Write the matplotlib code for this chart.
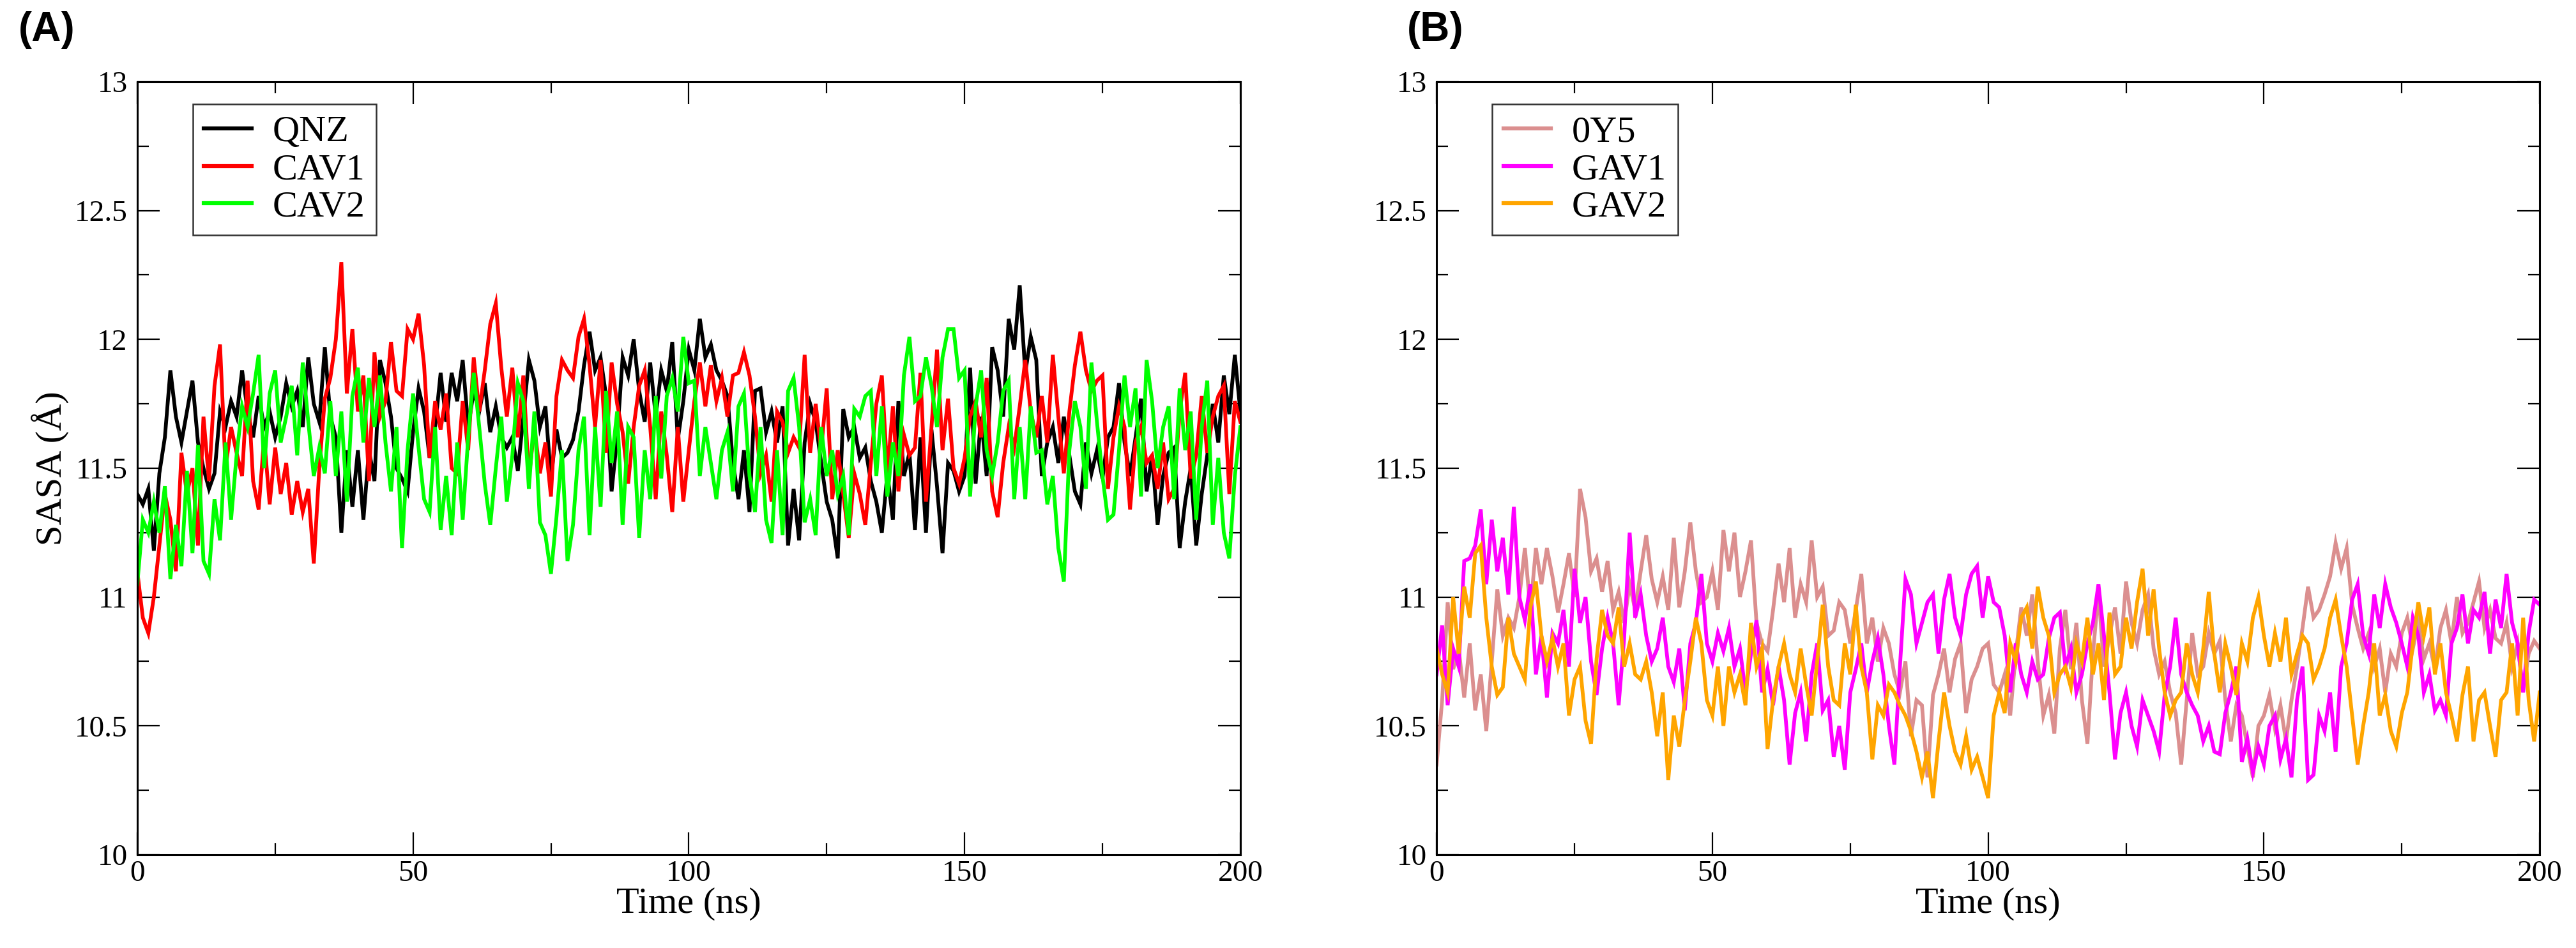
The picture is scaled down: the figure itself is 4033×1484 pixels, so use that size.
import numpy as np
import matplotlib
matplotlib.use("Agg")
import matplotlib.pyplot as plt
from matplotlib.ticker import MultipleLocator

plt.rcParams['font.family'] = ['Liberation Serif', 'DejaVu Serif']

# SASA vs time, one sample per ns (0..200 ns)
time_ns = np.arange(0, 201, 1)

sasa_qnz = [
    11.40, 11.36, 11.42, 11.18, 11.48, 11.62, 11.88, 11.70, 11.60, 11.72,
    11.84, 11.60, 11.50, 11.42, 11.48, 11.72, 11.66, 11.76, 11.70, 11.88,
    11.72, 11.62, 11.78, 11.66, 11.72, 11.62, 11.70, 11.83, 11.74, 11.80,
    11.66, 11.93, 11.75, 11.68, 11.97, 11.70, 11.62, 11.25, 11.57, 11.35,
    11.57, 11.30, 11.57, 11.45, 11.92, 11.83, 11.70, 11.50, 11.46, 11.41,
    11.64, 11.81, 11.72, 11.54, 11.66, 11.87, 11.68, 11.87, 11.76, 11.92,
    11.66, 11.80, 11.72, 11.83, 11.64, 11.74, 11.62, 11.58, 11.62, 11.49,
    11.70, 11.92, 11.84, 11.66, 11.74, 11.46, 11.65, 11.54, 11.56, 11.61,
    11.72, 11.90, 12.03, 11.88, 11.93, 11.78, 11.41, 11.62, 11.93, 11.86,
    12.00, 11.80, 11.68, 11.91, 11.70, 11.88, 11.80, 11.99, 11.61, 11.76,
    11.96, 11.88, 12.08, 11.93, 11.98, 11.88, 11.84, 11.78, 11.52, 11.38,
    11.57, 11.33, 11.80, 11.81, 11.64, 11.72, 11.60, 11.74, 11.20, 11.42,
    11.22, 11.60, 11.75, 11.68, 11.52, 11.37, 11.30, 11.15, 11.73, 11.62,
    11.66, 11.54, 11.58, 11.45, 11.37, 11.25, 11.48, 11.30, 11.76, 11.47,
    11.56, 11.26, 11.62, 11.25, 11.65, 11.43, 11.17, 11.52, 11.49, 11.41,
    11.47, 11.89, 11.44, 11.70, 11.47, 11.97, 11.88, 11.70, 12.08, 11.96,
    12.21, 11.87, 12.01, 11.92, 11.47, 11.60, 11.66, 11.52, 11.70, 11.55,
    11.41, 11.36, 11.60, 11.48, 11.57, 11.46, 11.62, 11.66, 11.83, 11.60,
    11.47, 11.62, 11.77, 11.41, 11.55, 11.28, 11.47, 11.56, 11.58, 11.19,
    11.37, 11.50, 11.20, 11.40, 11.55, 11.75, 11.60, 11.86, 11.71, 11.94,
    11.72,
]

sasa_cav1 = [
    11.10, 10.92, 10.86, 11.00, 11.20, 11.40, 11.30, 11.10, 11.56, 11.40,
    11.50, 11.20, 11.70, 11.45, 11.82, 11.98, 11.50, 11.66, 11.56, 11.47,
    11.84, 11.45, 11.34, 11.62, 11.36, 11.58, 11.40, 11.52, 11.32, 11.45,
    11.33, 11.42, 11.13, 11.50, 11.77, 11.85, 12.00, 12.30, 11.79, 12.04,
    11.72, 11.86, 11.45, 11.95, 11.70, 11.76, 11.99, 11.80, 11.78, 12.04,
    12.00, 12.10, 11.90, 11.54, 11.76, 11.65, 11.79, 11.50, 11.48, 11.76,
    11.57, 11.93, 11.72, 11.88, 12.06, 12.14, 11.89, 11.70, 11.89, 11.62,
    11.86, 11.46, 11.66, 11.48, 11.60, 11.39, 11.78, 11.92, 11.88, 11.85,
    12.01, 12.08, 11.90, 11.66, 11.92, 11.56, 11.91, 11.75, 11.64, 11.44,
    11.66, 11.82, 11.88, 11.66, 11.38, 11.72, 11.55, 11.33, 11.66, 11.37,
    11.57, 11.76, 11.91, 11.74, 11.90, 11.76, 11.85, 11.70, 11.86, 11.87,
    11.95, 11.86, 11.70, 11.48, 11.55, 11.37, 11.72, 11.68, 11.56, 11.62,
    11.58, 11.94, 11.56, 11.75, 11.57, 11.81, 11.38, 11.57, 11.40, 11.23,
    11.48, 11.40, 11.28, 11.52, 11.75, 11.86, 11.48, 11.74, 11.41, 11.63,
    11.55, 11.58, 11.87, 11.37, 11.66, 11.96, 11.57, 11.77, 11.50, 11.44,
    11.54, 11.70, 11.76, 11.62, 11.85, 11.41, 11.31, 11.52, 11.66, 11.58,
    11.74, 11.92, 11.72, 11.62, 11.78, 11.60, 11.94, 11.70, 11.48, 11.72,
    11.90, 12.03, 11.88, 11.80, 11.84, 11.86, 11.42, 11.62, 11.74, 11.66,
    11.34, 11.60, 11.66, 11.52, 11.55, 11.42, 11.60, 11.38, 11.42, 11.72,
    11.87, 11.46, 11.55, 11.78, 11.56, 11.70, 11.78, 11.82, 11.40, 11.76,
    11.68,
]

sasa_cav2 = [
    11.05, 11.30, 11.25, 11.37, 11.25, 11.43, 11.07, 11.28, 11.12, 11.49,
    11.17, 11.59, 11.14, 11.09, 11.38, 11.22, 11.60, 11.30, 11.55, 11.74,
    11.66, 11.79, 11.94, 11.50, 11.79, 11.88, 11.60, 11.70, 11.82, 11.55,
    11.91, 11.68, 11.47, 11.58, 11.48, 11.76, 11.47, 11.72, 11.37, 11.78,
    11.89, 11.60, 11.85, 11.66, 11.86, 11.60, 11.41, 11.66, 11.19, 11.57,
    11.79, 11.58, 11.38, 11.33, 11.66, 11.26, 11.47, 11.24, 11.60, 11.30,
    11.62, 11.87, 11.66, 11.44, 11.28, 11.50, 11.70, 11.37, 11.55, 11.83,
    11.76, 11.42, 11.72, 11.29, 11.24, 11.09, 11.31, 11.57, 11.14, 11.28,
    11.57, 11.70, 11.24, 11.66, 11.35, 11.80, 11.52, 11.72, 11.28, 11.66,
    11.62, 11.23, 11.57, 11.38, 11.78, 11.46, 11.78, 11.85, 11.72, 12.01,
    11.83, 11.84, 11.47, 11.66, 11.52, 11.38, 11.57, 11.64, 11.41, 11.74,
    11.79, 11.47, 11.33, 11.66, 11.30, 11.21, 11.57, 11.24, 11.80, 11.85,
    11.66, 11.29, 11.38, 11.24, 11.66, 11.47, 11.57, 11.40, 11.47, 11.24,
    11.73, 11.70, 11.78, 11.80, 11.47, 11.74, 11.39, 11.60, 11.47, 11.86,
    12.01, 11.76, 11.78, 11.93, 11.82, 11.66, 11.93, 12.04, 12.04, 11.85,
    11.88, 11.39, 11.74, 11.88, 11.57, 11.47, 11.60, 11.80, 11.84, 11.38,
    11.66, 11.38, 11.74, 11.56, 11.57, 11.36, 11.47, 11.19, 11.06, 11.57,
    11.76, 11.66, 11.42, 11.91, 11.68, 11.47, 11.30, 11.32, 11.57, 11.86,
    11.66, 11.81, 11.39, 11.92, 11.76, 11.50, 11.66, 11.74, 11.38, 11.81,
    11.57, 11.72, 11.30, 11.66, 11.84, 11.28, 11.54, 11.25, 11.15, 11.47,
    11.66,
]

sasa_0y5 = [
    10.35, 10.60, 10.98, 10.72, 10.80, 10.61, 10.82, 10.56, 10.70, 10.48,
    10.75, 11.03, 10.85, 10.92, 10.88, 11.00, 11.19, 10.95, 11.19, 11.05,
    11.19, 11.08, 10.94, 11.05, 11.17, 11.00, 11.42, 11.31, 11.10, 11.15,
    11.02, 11.14, 10.95, 11.02, 10.90, 11.05, 10.95, 11.10, 11.24, 11.07,
    10.98, 11.08, 10.95, 11.23, 10.96, 11.10, 11.29, 11.10, 10.98, 11.00,
    11.10, 10.95, 11.26, 11.10, 11.25, 11.00, 11.10, 11.22, 10.90, 10.82,
    10.79, 10.95, 11.13, 10.98, 11.19, 10.92, 11.05, 10.98, 11.22, 11.00,
    11.04, 10.85, 10.87, 10.98, 10.95, 10.82, 10.95, 11.09, 10.82, 10.92,
    10.75, 10.88, 10.82, 10.70, 10.63, 10.75, 10.46, 10.60, 10.58, 10.30,
    10.62, 10.70, 10.80, 10.63, 10.76, 10.82, 10.55, 10.68, 10.73, 10.80,
    10.82, 10.66, 10.63, 10.70, 10.54, 10.78, 10.96, 10.85, 11.01, 10.75,
    10.54, 10.62, 10.47, 10.80, 10.95, 10.72, 10.90, 10.60, 10.43, 10.78,
    11.02, 10.73, 10.85, 10.96, 10.78, 11.06, 10.90, 10.82, 10.95, 11.01,
    10.80, 10.70, 10.75, 10.63, 10.55, 10.35, 10.60, 10.86, 10.70, 10.73,
    10.86, 10.78, 10.83, 10.60, 10.44, 10.58, 10.54, 10.42, 10.30, 10.50,
    10.54, 10.62, 10.49, 10.58, 10.44, 10.60, 10.73, 10.88, 11.04, 10.92,
    10.95, 11.01, 11.08, 11.21, 11.11, 11.19, 10.97, 10.88, 10.80, 10.86,
    10.73, 10.80, 10.63, 10.78, 10.73, 10.86, 10.92, 10.80, 10.90, 10.76,
    10.82, 10.72, 10.88, 10.95, 10.82, 11.00, 10.86, 10.90, 10.98, 11.06,
    10.88, 10.95, 10.84, 10.82, 10.90, 10.73, 10.82, 10.63, 10.78, 10.83,
    10.80,
]

sasa_gav1 = [
    10.70, 10.89, 10.58, 10.80, 10.73, 11.14, 11.15, 11.20, 11.34, 11.05,
    11.30, 11.10, 11.23, 11.01, 11.35, 11.00, 10.91, 11.05, 10.70, 10.85,
    10.61, 10.86, 10.82, 10.95, 10.73, 11.11, 10.90, 11.00, 10.75, 10.62,
    10.80, 10.92, 10.82, 10.58, 10.84, 11.25, 10.92, 11.01, 10.85, 10.75,
    10.80, 10.92, 10.73, 10.67, 10.80, 10.56, 10.82, 10.90, 11.09, 10.82,
    10.75, 10.86, 10.79, 10.88, 10.73, 10.80, 10.63, 10.78, 10.91, 10.63,
    10.72, 10.58, 10.73, 10.60, 10.35, 10.55, 10.63, 10.44, 10.70, 10.82,
    10.56, 10.60, 10.38, 10.50, 10.33, 10.63, 10.72, 10.82, 10.63, 10.75,
    10.84, 10.70, 10.50, 10.35, 10.73, 11.07, 11.01, 10.82, 10.90, 10.98,
    11.01, 10.78, 10.99, 11.09, 10.92, 10.85, 11.01, 11.09, 11.12, 10.92,
    11.08, 10.98, 10.96, 10.85, 10.63, 10.82, 10.70, 10.63, 10.75, 10.68,
    10.70, 10.84, 10.92, 10.94, 10.73, 10.80, 10.63, 10.70, 10.82, 10.90,
    11.05, 10.85, 10.63, 10.37, 10.55, 10.63, 10.50, 10.42, 10.60, 10.54,
    10.48, 10.40, 10.62, 10.73, 10.92, 10.70, 10.63, 10.58, 10.54, 10.44,
    10.50, 10.40, 10.39, 10.55, 10.63, 10.73, 10.36, 10.45, 10.32, 10.42,
    10.35, 10.50, 10.54, 10.37, 10.45, 10.30, 10.60, 10.73, 10.29, 10.31,
    10.54, 10.48, 10.63, 10.40, 10.73, 10.82, 10.99, 11.05, 10.85, 10.78,
    11.01, 10.88, 11.05, 10.96, 10.90, 10.82, 10.73, 10.92, 10.85, 10.63,
    10.70, 10.56, 10.60, 10.54, 10.82, 10.88, 11.01, 10.82, 10.95, 10.92,
    11.02, 10.78, 10.99, 10.88, 11.09, 10.90, 10.82, 10.63, 10.86, 10.99,
    10.97,
]

sasa_gav2 = [
    10.80, 10.70, 10.63, 11.00, 10.78, 11.04, 10.92, 11.17, 11.20, 10.92,
    10.73, 10.62, 10.65, 10.92, 10.78, 10.73, 10.68, 10.96, 11.06, 10.85,
    10.75, 10.84, 10.73, 10.82, 10.54, 10.68, 10.73, 10.52, 10.43, 10.76,
    10.95, 10.85, 10.82, 10.96, 10.73, 10.82, 10.70, 10.68, 10.75, 10.63,
    10.46, 10.63, 10.29, 10.54, 10.42, 10.60, 10.75, 10.92, 10.82, 10.60,
    10.54, 10.73, 10.50, 10.73, 10.63, 10.70, 10.58, 10.90, 10.73, 10.80,
    10.41, 10.60, 10.73, 10.82, 10.70, 10.63, 10.80, 10.66, 10.54, 10.75,
    10.97, 10.73, 10.60, 10.58, 10.82, 10.70, 10.97, 10.73, 10.63, 10.37,
    10.58, 10.54, 10.66, 10.63, 10.58, 10.54, 10.48, 10.40, 10.30, 10.40,
    10.22, 10.44, 10.63, 10.50, 10.40, 10.35, 10.46, 10.33, 10.38, 10.30,
    10.22, 10.54, 10.63, 10.55, 10.82, 10.75, 10.92, 10.96, 10.80, 11.04,
    10.92, 10.85, 10.63, 10.70, 10.73, 10.65, 10.82, 10.75, 10.92, 10.70,
    10.82, 10.60, 10.94, 10.70, 10.73, 10.92, 10.80, 10.98, 11.11, 10.85,
    11.03, 10.80, 10.63, 10.54, 10.60, 10.63, 10.82, 10.70, 10.63, 10.80,
    11.02, 10.78, 10.63, 10.82, 10.73, 10.62, 10.82, 10.75, 10.92, 11.00,
    10.85, 10.73, 10.86, 10.75, 10.92, 10.70, 10.78, 10.85, 10.82, 10.68,
    10.73, 10.80, 10.92, 10.99, 10.85, 10.73, 10.54, 10.35, 10.50, 10.63,
    10.82, 10.54, 10.62, 10.48, 10.42, 10.55, 10.63, 10.82, 10.98, 10.85,
    10.96, 10.70, 10.82, 10.63, 10.54, 10.44, 10.62, 10.73, 10.44, 10.60,
    10.63, 10.50, 10.38, 10.60, 10.63, 10.82, 10.54, 10.92, 10.60, 10.44,
    10.63,
]

panels = [
    ('(A)', [('QNZ', sasa_qnz, 'black'),
             ('CAV1', sasa_cav1, '#ff0000'),
             ('CAV2', sasa_cav2, '#00ff00')]),
    ('(B)', [('0Y5', sasa_0y5, '#db8f8f'),
             ('GAV1', sasa_gav1, '#ff00ff'),
             ('GAV2', sasa_gav2, '#ffa500')]),
]

fig = plt.figure(figsize=(40.33, 14.84), dpi=100)
ax_lefts = [0.0533, 0.5577]
letter_x = [0.0072, 0.5462]

for i, (letter, series) in enumerate(panels):
    ax = fig.add_axes([ax_lefts[i], 0.0984, 0.4282, 0.8154])
    for name, vals, color in series:
        ax.plot(time_ns, vals, color=color, lw=4.2, label=name,
                solid_joinstyle='miter')

    ax.set_xlim(0, 200)
    ax.set_ylim(10, 13)
    ax.xaxis.set_major_locator(MultipleLocator(50))
    ax.xaxis.set_minor_locator(MultipleLocator(25))
    ax.yaxis.set_major_locator(MultipleLocator(0.5))
    ax.yaxis.set_minor_locator(MultipleLocator(0.25))
    ax.set_yticks([10, 10.5, 11, 11.5, 12, 12.5, 13])
    ax.set_yticklabels(['10', '10.5', '11', '11.5', '12', '12.5', '13'])

    ax.tick_params(which='both', direction='in', top=True, right=True,
                   width=1.6, labelsize=34)
    ax.tick_params(which='major', length=25)
    ax.tick_params(which='minor', length=13)
    ax.tick_params(axis='x', pad=6)
    ax.tick_params(axis='y', pad=11)
    for sp in ax.spines.values():
        sp.set_linewidth(2.2)

    ax.set_xlabel('Time (ns)', fontsize=42, labelpad=0)
    if i == 0:
        ax.set_ylabel('SASA (Å)', fontsize=42, labelpad=6)

    leg = ax.legend(loc='upper left', bbox_to_anchor=(0.0504, 0.971),
                    borderaxespad=0, fontsize=42, frameon=True, fancybox=False,
                    handlelength=1.27, handletextpad=0.57, borderpad=0.3,
                    labelspacing=0.1)
    leg.get_frame().set_edgecolor('black')
    leg.get_frame().set_linewidth(1.8)
    for line in leg.get_lines():
        line.set_linewidth(4.5)

    fig.text(letter_x[i], 0.968, letter, fontsize=46, fontweight='bold',
             family=['Liberation Sans', 'DejaVu Sans'], va='center', ha='left')

fig.savefig('out.png', dpi=100)
